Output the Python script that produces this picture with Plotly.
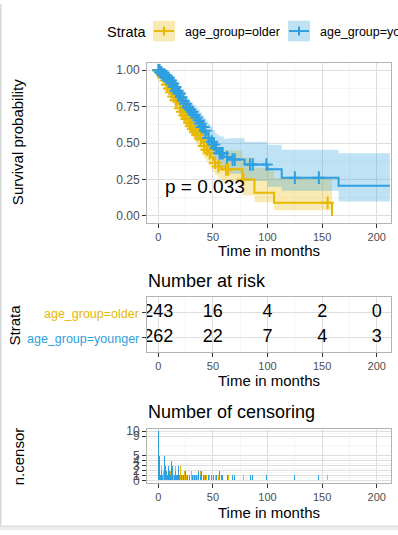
import numpy as np
import plotly.graph_objects as go

W, H = 398, 535
FONT = "Liberation Sans, Arial, sans-serif"
C_OLD = "#E7B800"
C_YOUNG = "#2E9FDF"
F_OLD = "rgba(231,184,0,0.3)"
F_YOUNG = "rgba(46,159,223,0.3)"

# ---------------- data ----------------
strata = ["age_group=older", "age_group=younger"]

older_time = [0, 1.5, 3, 4.5, 6, 8, 10, 12, 14, 16, 18, 20, 22, 24, 26, 28, 30, 32, 34, 36,
              38, 40, 42, 44, 46, 48, 50, 52, 55, 58, 77, 88, 106, 159]
older_surv = [1.0, 0.985, 0.97, 0.95, 0.93, 0.90, 0.875, 0.85, 0.82, 0.795, 0.77, 0.74, 0.715,
              0.69, 0.665, 0.64, 0.615, 0.595, 0.575, 0.555, 0.53, 0.505, 0.48, 0.455, 0.43,
              0.405, 0.385, 0.365, 0.34, 0.32, 0.25, 0.16, 0.09, 0.0]
older_lower = [1.0, 0.97, 0.948, 0.925, 0.90, 0.865, 0.835, 0.805, 0.77, 0.745, 0.715, 0.68,
               0.655, 0.625, 0.60, 0.57, 0.545, 0.52, 0.50, 0.475, 0.45, 0.42, 0.395, 0.37,
               0.345, 0.32, 0.30, 0.28, 0.255, 0.23, 0.14, 0.094, 0.04, None]
older_upper = [1.0, 1.0, 0.99, 0.975, 0.96, 0.935, 0.915, 0.895, 0.87, 0.85, 0.825, 0.80,
               0.78, 0.755, 0.735, 0.71, 0.69, 0.67, 0.655, 0.635, 0.615, 0.59, 0.57, 0.545,
               0.525, 0.50, 0.485, 0.47, 0.455, 0.45, 0.40, 0.33, 0.26, None]

younger_time = [0, 2, 4, 6, 8, 10, 12, 14, 16, 18, 20, 22, 24, 26, 28, 30, 32, 34, 36, 38,
                40, 42, 44, 46, 48, 50, 52, 54, 56, 60, 64, 79, 100, 113, 165, 212]
younger_surv = [1.0, 0.985, 0.97, 0.96, 0.948, 0.93, 0.91, 0.885, 0.86, 0.84, 0.815, 0.79,
                0.77, 0.746, 0.73, 0.715, 0.695, 0.675, 0.655, 0.633, 0.61, 0.585, 0.56,
                0.535, 0.51, 0.49, 0.465, 0.445, 0.43, 0.405, 0.387, 0.353, 0.32, 0.263,
                0.207, 0.207]
younger_lower = [1.0, 0.97, 0.95, 0.935, 0.92, 0.90, 0.875, 0.845, 0.82, 0.795, 0.765, 0.74,
                 0.715, 0.69, 0.67, 0.655, 0.63, 0.61, 0.585, 0.56, 0.535, 0.51, 0.48, 0.455,
                 0.43, 0.41, 0.385, 0.365, 0.35, 0.32, 0.29, 0.24, 0.20, 0.173, 0.10, 0.10]
younger_upper = [1.0, 1.0, 0.99, 0.985, 0.975, 0.96, 0.945, 0.925, 0.90, 0.885, 0.865, 0.845,
                 0.825, 0.805, 0.79, 0.78, 0.76, 0.745, 0.73, 0.71, 0.69, 0.67, 0.65, 0.63,
                 0.61, 0.59, 0.57, 0.555, 0.545, 0.53, 0.533, 0.51, 0.488, 0.454, 0.431, 0.431]

younger_cens_time = [0.2, 1.2, 2.0, 3.0, 4.2, 5.5, 6.3, 7.5, 8.4, 9.5, 10.5, 11.5, 12.5, 13.4,
                     14.5, 15.5, 16.5, 17.5, 18.6, 19.5, 21.0, 23.0, 25.0, 27.0, 29.0, 31.0,
                     33.0, 35.0, 37.0, 38.5, 40.0, 41.5, 43.0, 46.0, 49.0, 51.0, 53.0, 56.0,
                     57.5, 59.0, 63.0, 68.0, 70.0, 84.0, 86.5, 99.0, 125.0, 147.0]
younger_cens_n = [10, 5, 1, 2, 1, 5, 3, 2, 1, 3, 2, 1, 4, 3, 1, 2, 1, 1, 3, 1, 1, 1, 2, 1, 1,
                  1, 1, 1, 2, 1, 2, 1, 1, 1, 1, 1, 1, 2, 1, 1, 1, 1, 1, 1, 1, 1, 1, 1]
older_cens_time = [0.2, 0.8, 2.6, 3.6, 4.8, 7.0, 8.0, 10.0, 11.0, 12.0, 14.0, 16.0, 17.0,
                   20.0, 22.0, 24.0, 26.0, 28.5, 30.0, 32.0, 34.0, 36.0, 39.0, 42.0, 44.5,
                   47.0, 52.0, 55.0, 62.0, 64.0, 78.0, 155.0]
older_cens_n = [9, 1, 3, 1, 2, 3, 1, 1, 2, 1, 1, 3, 1, 3, 1, 2, 1, 1, 2, 1, 1, 1, 2, 1, 1,
                1, 1, 1, 1, 1, 1, 1]

risk_times = [0, 50, 100, 150, 200]
older_risk = [243, 16, 4, 2, 0]
younger_risk = [262, 22, 7, 4, 3]

x_ticks = [0, 50, 100, 150, 200]
surv_ticks = [0, 0.25, 0.5, 0.75, 1.0]
surv_ticklabels = ["0.00", "0.25", "0.50", "0.75", "1.00"]
censor_ticks = [0, 1, 2, 3, 4, 5, 9, 10]
pval_text = "p = 0.033"

# ---------------- helpers ----------------
def fx(px):
    return px / W

def fy(py):
    return 1 - py / H

def step_value(times, surv, t):
    i = np.searchsorted(np.asarray(times, float), t, side="right") - 1
    return [surv[k] for k in i]

def ffill(vals):
    out, last = [], None
    for v in vals:
        if v is None:
            v = last
        out.append(v)
        last = v
    return out

XRANGE = [-10.3, 213]

fig = go.Figure()

# confidence bands
for t, lo, hi, fc in [(older_time, older_lower, older_upper, F_OLD),
                      (younger_time, younger_lower, younger_upper, F_YOUNG)]:
    fig.add_trace(go.Scatter(x=t, y=ffill(lo), mode="lines", line=dict(width=0, shape="hv"),
                             hoverinfo="skip", showlegend=False, xaxis="x", yaxis="y"))
    fig.add_trace(go.Scatter(x=t, y=ffill(hi), mode="lines", line=dict(width=0, shape="hv"),
                             fill="tonexty", fillcolor=fc, hoverinfo="skip",
                             showlegend=False, xaxis="x", yaxis="y"))

# survival lines
for t, s, c in [(older_time, older_surv, C_OLD), (younger_time, younger_surv, C_YOUNG)]:
    fig.add_trace(go.Scatter(x=t, y=s, mode="lines", line=dict(color=c, width=2, shape="hv"),
                             hoverinfo="skip", showlegend=False, xaxis="x", yaxis="y"))

# censor marks
for ct, t, s, c in [(older_cens_time, older_time, older_surv, C_OLD),
                    (younger_cens_time, younger_time, younger_surv, C_YOUNG)]:
    fig.add_trace(go.Scatter(x=ct, y=step_value(t, s, ct), mode="markers",
                             marker=dict(symbol="cross-thin", size=9,
                                         line=dict(color=c, width=2)),
                             hoverinfo="skip", showlegend=False, xaxis="x", yaxis="y"))

# risk table
for vals, ypos in [(older_risk, 2), (younger_risk, 1)]:
    fig.add_trace(go.Scatter(x=risk_times, y=[ypos] * len(vals), mode="text",
                             text=[str(v) for v in vals],
                             textfont=dict(family=FONT, size=18, color="black"),
                             cliponaxis=True, hoverinfo="skip", showlegend=False,
                             xaxis="x2", yaxis="y2"))

# censoring bars
for ct, cn, c in [(older_cens_time, older_cens_n, C_OLD),
                  (younger_cens_time, younger_cens_n, C_YOUNG)]:
    fig.add_trace(go.Bar(x=ct, y=cn, width=0.9, marker=dict(color=c, line=dict(width=0)),
                         hoverinfo="skip", showlegend=False, xaxis="x3", yaxis="y3"))

xtickfont = dict(family=FONT, size=11, color="#4D4D4D")
ytickfont = dict(family=FONT, size=12, color="#4D4D4D")
common_x = dict(range=XRANGE, tickvals=x_ticks, showgrid=True, gridcolor="#DEDEDE",
                gridwidth=1, minor=dict(tickvals=[25, 75, 125, 175], showgrid=True,
                                        gridcolor="#EFEFEF", gridwidth=0.6, ticks=""),
                showline=True, mirror=True, linecolor="#B3B3B3", linewidth=1,
                ticks="outside", ticklen=4, tickcolor="#333333", tickfont=xtickfont,
                zeroline=False, fixedrange=True)
common_y = dict(showgrid=True, gridcolor="#DEDEDE", gridwidth=1, showline=True, mirror=True,
                linecolor="#B3B3B3", linewidth=1, ticks="outside", ticklen=4,
                tickcolor="#333333", tickfont=ytickfont, zeroline=False, fixedrange=True)

xd = [fx(147), fx(391)]
fig.update_layout(
    width=W, height=H, autosize=False,
    margin=dict(l=0, r=0, t=0, b=0),
    paper_bgcolor="white", plot_bgcolor="white",
    font=dict(family=FONT, color="black"),
    barmode="overlay", bargap=0,
    showlegend=False,
    xaxis=dict(domain=xd, anchor="y", **common_x),
    yaxis=dict(domain=[fy(223), fy(60)], anchor="x", range=[-0.05, 1.05],
               tickvals=surv_ticks, ticktext=surv_ticklabels,
               minor=dict(tickvals=[0.125, 0.375, 0.625, 0.875], showgrid=True,
                          gridcolor="#EFEFEF", gridwidth=0.6, ticks=""), **common_y),
    xaxis2=dict(domain=xd, anchor="y2", **common_x),
    yaxis2=dict(domain=[fy(354), fy(298)], anchor="x2", range=[0.4, 2.6],
                tickvals=[1, 2], ticktext=["", ""], **common_y),
    xaxis3=dict(domain=xd, anchor="y3", **common_x),
    yaxis3=dict(domain=[fy(487), fy(432)], anchor="x3", range=[-0.5, 10.5],
                tickvals=censor_ticks, ticktext=[str(v) for v in censor_ticks],
                minor=dict(tickvals=[0.5, 1.5, 2.5, 3.5, 4.5, 7, 9.5], showgrid=True,
                           gridcolor="#EFEFEF", gridwidth=0.6, ticks=""), **common_y),
)

ann = []
def text(px, py, s, size, anchor="center", color="black", angle=0):
    ann.append(dict(x=fx(px), y=fy(py), xref="paper", yref="paper", text=s, showarrow=False,
                    xanchor=anchor, yanchor="middle", textangle=angle,
                    font=dict(family=FONT, size=size, color=color)))

text(17.5, 141, "Survival probability", 15, angle=-90)
text(269, 251, "Time in months", 15)
text(146, 282, "Number at risk", 18, anchor="left")
text(15, 326, "Strata", 15, angle=-90)
text(141, 315, strata[0], 12.5, anchor="right", color=C_OLD)
text(141, 341, strata[1], 12.5, anchor="right", color=C_YOUNG)
text(269, 383, "Time in months", 15)
text(146, 415, "Number of censoring", 18, anchor="left")
text(18, 460, "n.censor", 15, angle=-90)
text(269, 517, "Time in months", 15)
# legend
text(105, 28, "Strata", 14.5, anchor="left")
text(183, 28, strata[0], 12.5, anchor="left")
text(318, 28, strata[1], 12.5, anchor="left")
ann.append(dict(x=4.3, y=0.2, xref="x", yref="y", text=pval_text, showarrow=False,
                xanchor="left", yanchor="middle", font=dict(family=FONT, size=19, color="black")))
fig.update_layout(annotations=ann)

shapes = []
def rect(x0, y0, x1, y1, fill):
    shapes.append(dict(type="rect", xref="paper", yref="paper", x0=fx(x0), x1=fx(x1),
                       y0=fy(y1), y1=fy(y0), fillcolor=fill, line=dict(width=0),
                       layer="above"))

def seg(x0, y0, x1, y1, color, w):
    shapes.append(dict(type="line", xref="paper", yref="paper", x0=fx(x0), x1=fx(x1),
                       y0=fy(y0), y1=fy(y1), line=dict(color=color, width=w), layer="above"))

for (bx, fc, lc) in [(153, F_OLD, C_OLD), (288, F_YOUNG, C_YOUNG)]:
    rect(bx, 17, bx + 22, 38, fc)
    seg(bx + 1, 27.5, bx + 21, 27.5, lc, 2)
    seg(bx + 11, 23, bx + 11, 32, lc, 2)

# page frame: left rule and bottom strip
rect(0, 0, 1.5, 531, "#D6D8DB")
rect(0, 531, 398, 535, "#ECEDEF")
seg(0, 531, 398, 531, "#D6D8DB", 1)
fig.update_layout(shapes=shapes)

fig.write_html("out.html", config={"displayModeBar": False, "staticPlot": True},
               post_script=("document.documentElement.style.overflow='hidden';"
                            "document.body.style.overflow='hidden';"
                            "document.body.style.margin='0px';"
                            "document.body.style.padding='0px';"))
